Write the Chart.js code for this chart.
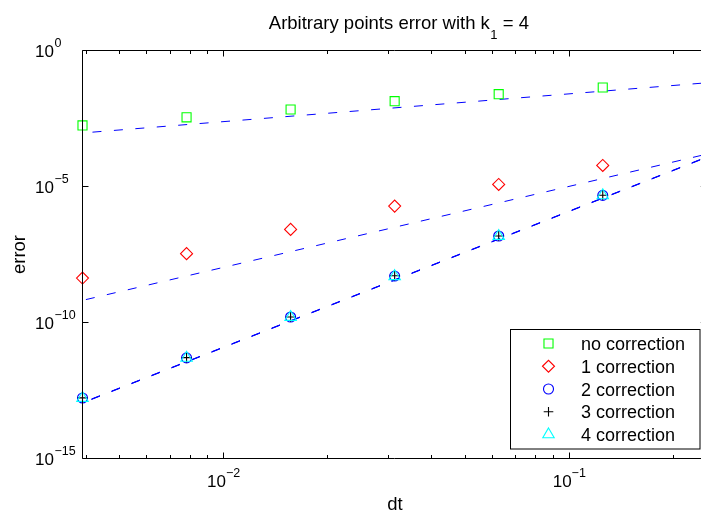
<!DOCTYPE html>
<html>
<head>
<meta charset="utf-8">
<title>Arbitrary points error</title>
<script src="https://cdn.jsdelivr.net/npm/chart.js@4.4.0/dist/chart.umd.min.js"></script>
<style>
  html, body { margin: 0; padding: 0; background: #fff; overflow: hidden; }
  #wrap { width: 720px; height: 511px; }
</style>
</head>
<body>
<div id="wrap"><canvas id="c" width="720" height="511"></canvas></div>
<script>
// time steps
const dt = [0.00390625, 0.0078125, 0.015625, 0.03125, 0.0625, 0.125];

// measured errors per number of corrections
const errNoCorrection = [1.76e-3, 3.5e-3, 6.8e-3, 1.37e-2, 2.48e-2, 4.37e-2];
const err1Correction  = [4.3e-9, 3.4e-8, 2.65e-7, 1.9e-6, 1.19e-5, 5.96e-5];
const err2Correction  = [1.68e-13, 5.0e-12, 1.59e-10, 5.1e-9, 1.51e-7, 4.71e-6];
const err3Correction  = [1.70e-13, 5.1e-12, 1.60e-10, 5.2e-9, 1.52e-7, 4.75e-6];
const err4Correction  = [1.66e-13, 5.0e-12, 1.58e-10, 5.0e-9, 1.50e-7, 4.70e-6];

// dashed reference slopes, given at both ends of the dt range
const fitDt      = [0.00390625, 0.25];
const fitOrder1  = [9.3e-4, 6.5e-2];
const fitOrder3  = [6.5e-10, 1.55e-4];
const fitOrder5a = [1.12e-13, 1.20e-4];
const fitOrder5b = [1.10e-13, 1.18e-4];
const fitOrder5c = [1.14e-13, 1.22e-4];

// axis ticks
const xMajorTicks  = [1e-2, 1e-1];
const xMajorExps   = ['\u22122', '\u22121'];
const xMinorTicks  = [0.004, 0.005, 0.006, 0.007, 0.008, 0.009,
                      0.02, 0.03, 0.04, 0.05, 0.06, 0.07, 0.08, 0.09, 0.2];
const yMajorTicks  = [1, 1e-5, 1e-10, 1e-15];
const yMajorExps   = ['0', '\u22125', '\u221210', '\u221215'];

const titleMain = 'Arbitrary points error with k';
const titleSub  = '1';
const titleTail = ' = 4';
const xLabel = 'dt';
const yLabel = 'error';

const FONT = '"Liberation Sans", Arial, Helvetica, sans-serif';
const BLUE = '#0000ff';

const pts = (xs, ys) => xs.map((v, i) => ({ x: v, y: ys[i] }));

const markerSeries = [
  { label: 'no correction', data: errNoCorrection, color: '#00ff00', style: 'rect',     r: 6.4 },
  { label: '1 correction',  data: err1Correction,  color: '#ff0000', style: 'rectRot',  r: 6.0 },
  { label: '2 correction',  data: err2Correction,  color: '#0000ff', style: 'circle',   r: 5.0 },
  { label: '3 correction',  data: err3Correction,  color: '#000000', style: 'cross',    r: 4.8 },
  { label: '4 correction',  data: err4Correction,  color: '#00ffff', style: 'triangle', r: 6.6 }
];

const fitSeries = [
  { data: fitOrder1,  offset: 11.5 },
  { data: fitOrder3,  offset: 18.0 },
  { data: fitOrder5a, offset: 11.8 },
  { data: fitOrder5b, offset: 11.8 },
  { data: fitOrder5c, offset: 11.8 }
];

const datasets = [];
markerSeries.forEach((s, i) => {
  datasets.push({
    label: s.label,
    data: pts(dt, s.data),
    showLine: false,
    pointStyle: s.style,
    pointRadius: s.r,
    pointBorderColor: s.color,
    pointBackgroundColor: 'rgba(0,0,0,0)',
    pointBorderWidth: 1.1,
    clip: false,
    order: 5 - i
  });
});
fitSeries.forEach(f => {
  datasets.push({
    label: '',
    data: pts(fitDt, f.data),
    showLine: true,
    borderColor: BLUE,
    borderWidth: 1,
    borderDash: [9, 12.5],
    borderDashOffset: f.offset,
    pointRadius: 0,
    fill: false,
    order: 10
  });
});

function snap(v) { return Math.floor(v) + 0.5; }

function drawMarker(ctx, s, x, y) {
  ctx.save();
  ctx.strokeStyle = s.color;
  ctx.fillStyle = 'rgba(0,0,0,0)';
  ctx.lineWidth = 1.1;
  if (Chart.helpers && Chart.helpers.drawPoint) {
    Chart.helpers.drawPoint(ctx, { pointStyle: s.style, radius: s.r, rotation: 0, borderWidth: 1.1 }, x, y);
  } else {
    ctx.beginPath();
    const r = s.r;
    if (s.style === 'rect') { const h = Math.SQRT1_2 * r; ctx.rect(x - h, y - h, 2 * h, 2 * h); }
    else if (s.style === 'rectRot') { ctx.moveTo(x, y - r); ctx.lineTo(x + r, y); ctx.lineTo(x, y + r); ctx.lineTo(x - r, y); ctx.closePath(); }
    else if (s.style === 'circle') { ctx.arc(x, y, r, 0, Math.PI * 2); }
    else if (s.style === 'cross') { ctx.moveTo(x, y - r); ctx.lineTo(x, y + r); ctx.moveTo(x - r, y); ctx.lineTo(x + r, y); }
    else if (s.style === 'triangle') { const w = r * Math.sin(Math.PI / 3); ctx.moveTo(x, y - r); ctx.lineTo(x + w, y + r / 2); ctx.lineTo(x - w, y + r / 2); ctx.closePath(); }
    ctx.stroke();
  }
  ctx.restore();
}

// box axes with inward ticks, power-of-ten labels, titles and legend
const axesFrame = {
  id: 'axesFrame',
  afterDraw(chart) {
    const { ctx, chartArea: a, scales: { x, y } } = chart;
    ctx.save();
    ctx.strokeStyle = '#000';
    ctx.fillStyle = '#000';
    ctx.lineWidth = 1;

    ctx.beginPath();
    ctx.rect(a.left, a.top, a.right - a.left, a.bottom - a.top);
    ctx.stroke();

    const majorLen = 6, minorLen = 3.5;
    ctx.beginPath();
    xMajorTicks.forEach(v => {
      const px = snap(x.getPixelForValue(v));
      ctx.moveTo(px, a.bottom); ctx.lineTo(px, a.bottom - majorLen);
      ctx.moveTo(px, a.top);    ctx.lineTo(px, a.top + majorLen);
    });
    xMinorTicks.forEach(v => {
      const px = snap(x.getPixelForValue(v));
      ctx.moveTo(px, a.bottom); ctx.lineTo(px, a.bottom - minorLen);
      ctx.moveTo(px, a.top);    ctx.lineTo(px, a.top + minorLen);
    });
    yMajorTicks.forEach(v => {
      const py = snap(y.getPixelForValue(v));
      ctx.moveTo(a.left, py);  ctx.lineTo(a.left + majorLen, py);
      ctx.moveTo(a.right, py); ctx.lineTo(a.right - majorLen, py);
    });
    ctx.stroke();

    const mainFont = '17px ' + FONT;
    const supFont = '12.5px ' + FONT;

    // x tick labels
    xMajorTicks.forEach((v, i) => {
      const px = x.getPixelForValue(v);
      ctx.font = mainFont;
      const w10 = ctx.measureText('10').width;
      ctx.font = supFont;
      const we = ctx.measureText(xMajorExps[i]).width;
      const start = px - (w10 + we) / 2;
      ctx.textAlign = 'left';
      ctx.textBaseline = 'alphabetic';
      ctx.font = mainFont;
      ctx.fillText('10', start, a.bottom + 28);
      ctx.font = supFont;
      ctx.fillText(xMajorExps[i], start + w10, a.bottom + 18);
    });

    // y tick labels
    yMajorTicks.forEach((v, i) => {
      const py = y.getPixelForValue(v);
      const xr = 54;
      ctx.textBaseline = 'alphabetic';
      ctx.font = mainFont;
      ctx.textAlign = 'right';
      ctx.fillText('10', xr, py + 6.3);
      ctx.font = supFont;
      ctx.textAlign = 'left';
      ctx.fillText(yMajorExps[i], xr + 0.5, py - 3.5);
    });

    // title with subscript
    const tFont = '18.5px ' + FONT;
    const tSub = '13px ' + FONT;
    ctx.font = tFont;
    const w1 = ctx.measureText(titleMain).width;
    const w3 = ctx.measureText(titleTail).width;
    ctx.font = tSub;
    const w2 = ctx.measureText(titleSub).width;
    const cx = (a.left + a.right) / 2 + 4;
    let tx = cx - (w1 + w2 + w3) / 2;
    ctx.textAlign = 'left';
    ctx.font = tFont;
    ctx.fillText(titleMain, tx, 28.5);
    ctx.font = tSub;
    ctx.fillText(titleSub, tx + w1 + 0.5, 39);
    ctx.font = tFont;
    ctx.fillText(titleTail, tx + w1 + w2 + 0.5, 28.5);

    // axis labels
    ctx.font = tFont;
    ctx.textAlign = 'center';
    ctx.fillText(xLabel, 395, 509.5);
    ctx.save();
    ctx.translate(24.5, (a.top + a.bottom) / 2);
    ctx.rotate(-Math.PI / 2);
    ctx.fillText(yLabel, 0, 0);
    ctx.restore();

    // legend
    const lx = 510.5, ly = 329.5, lw = 189.5, lh = 119.5;
    ctx.fillStyle = '#fff';
    ctx.fillRect(lx, ly, lw, lh);
    ctx.strokeStyle = '#000';
    ctx.strokeRect(lx, ly, lw, lh);
    ctx.font = '18px ' + FONT;
    ctx.textAlign = 'left';
    ctx.textBaseline = 'alphabetic';
    markerSeries.forEach((s, i) => {
      const ry = 343.5 + i * 22.75;
      drawMarker(ctx, s, 548.5, ry);
      ctx.fillStyle = '#000';
      ctx.fillText(s.label, 581, ry + 6.7);
    });

    ctx.restore();
  }
};

new Chart(document.getElementById('c'), {
  type: 'scatter',
  data: { datasets },
  options: {
    responsive: false,
    animation: false,
    events: [],
    devicePixelRatio: 1,
    layout: { padding: { left: 82.5, top: 50.5, right: 720 - 706.8, bottom: 511 - 458.5 } },
    plugins: { legend: { display: false }, title: { display: false }, tooltip: { enabled: false } },
    scales: {
      x: { type: 'logarithmic', min: 0.00390625, max: 0.25, display: false },
      y: { type: 'logarithmic', min: 1e-15, max: 1, display: false }
    }
  },
  plugins: [axesFrame]
});
</script>
</body>
</html>
